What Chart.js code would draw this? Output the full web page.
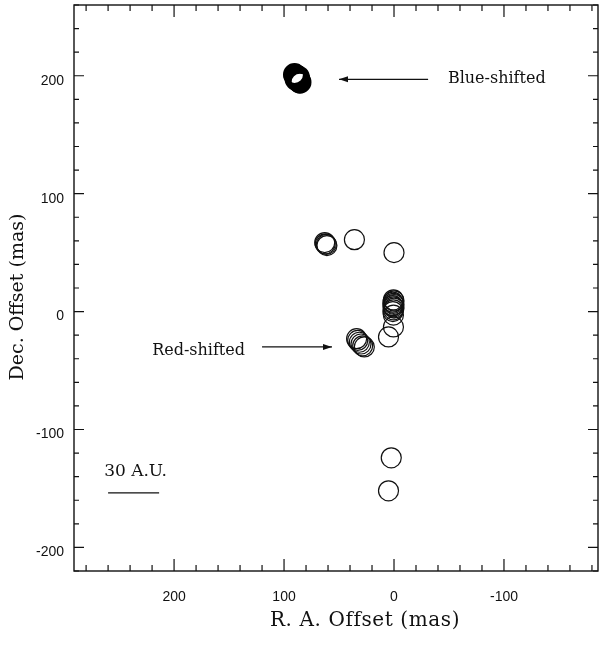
<!DOCTYPE html>
<html>
<head>
<meta charset="utf-8">
<script src="https://cdn.jsdelivr.net/npm/chart.js@4"></script>
<style>
  body { margin: 0; background: #fff; }
  canvas { display: block; }
</style>
</head>
<body>
<canvas id="maserChart" width="599" height="649"></canvas>
<script>
  // blue-shifted spots (drawn heavy, they merge into one blob)
  const blueRA  = [90.5, 90, 89.5, 89, 88.5, 88, 87.5, 87, 86.5, 86, 85.5, 89, 87];
  const blueDec = [201, 200.5, 200, 199, 198.5, 198, 197, 196.5, 196, 195, 194.5, 197, 199];

  // red-shifted / other spots
  const redRA  = [63, 62.5, 61.5, 61, 36, 0, 0.5, 0, 1, 0.5, 0, 1, 0.5, 0, 0.5, 1, 0.5, 0.5, 5, 34, 33, 31.5, 30, 28.5, 27, 2.5, 5];
  const redDec = [58.5, 57.5, 57, 56, 61, 50, 10, 9, 8, 7, 6, 5, 4, 3, 1.5, 0, -3, -13, -21.5, -23, -24.5, -26, -27.5, -29, -30, -124, -152];

  const raTicks  = [200, 100, 0, -100];
  const decTicks = [200, 100, 0, -100, -200];

  const raRange  = [-185.5, 291];
  const decRange = [-220, 260];

  const toPts = (xs, ys) => xs.map((x, i) => ({ x: x, y: ys[i] }));

  const serif = '"DejaVu Serif", "Liberation Serif", serif';
  const sans = '"Liberation Sans", Arial, sans-serif';

  // frame, inward ticks on all sides, tick labels, titles and the labels/arrows
  const decorations = {
    id: 'decorations',
    afterDraw(chart) {
      const ctx = chart.ctx;
      const a = chart.chartArea;
      const xs = chart.scales.x, ys = chart.scales.y;
      const X = v => xs.getPixelForValue(v);
      const Y = v => ys.getPixelForValue(v);
      ctx.save();
      ctx.strokeStyle = '#111';
      ctx.fillStyle = '#111';
      ctx.lineWidth = 1.4;
      ctx.strokeRect(a.left, a.top, a.right - a.left, a.bottom - a.top);

      ctx.lineWidth = 1.2;
      ctx.beginPath();
      for (let v = -180; v <= 280; v += 20) {
        const px = X(v);
        const len = v % 100 === 0 ? 12 : 6;
        ctx.moveTo(px, a.bottom); ctx.lineTo(px, a.bottom - len);
        ctx.moveTo(px, a.top); ctx.lineTo(px, a.top + len);
      }
      for (let v = -220; v <= 260; v += 20) {
        const py = Y(v);
        const len = v % 100 === 0 ? 10 : 5;
        ctx.moveTo(a.left, py); ctx.lineTo(a.left + len, py);
        ctx.moveTo(a.right, py); ctx.lineTo(a.right - len, py);
      }
      ctx.stroke();

      // tick labels
      ctx.font = '14px ' + sans;
      ctx.textBaseline = 'middle';
      ctx.textAlign = 'center';
      xs.ticks.forEach(t => ctx.fillText(String(t.value), X(t.value), a.bottom + 26));
      ctx.textAlign = 'right';
      ys.ticks.forEach(t => ctx.fillText(String(t.value), a.left - 10, Y(t.value) + 5));

      // axis titles
      ctx.textAlign = 'center';
      ctx.font = '20px ' + serif;
      ctx.letterSpacing = '0.6px';
      ctx.fillText('R. A. Offset (mas)', 365, 621);
      ctx.letterSpacing = '0px';
      ctx.save();
      ctx.translate(18, 297);
      ctx.rotate(-Math.PI / 2);
      ctx.font = '19px ' + serif;
      ctx.fillText('Dec. Offset (mas)', 0, 0);
      ctx.restore();

      // annotations, placed in data units
      const arrow = (x1, y1, x2, y2) => {
        ctx.lineWidth = 1.2;
        ctx.beginPath();
        ctx.moveTo(x1, y1); ctx.lineTo(x2, y2);
        ctx.stroke();
        const dir = Math.sign(x2 - x1);
        ctx.beginPath();
        ctx.moveTo(x2, y2);
        ctx.lineTo(x2 - dir * 9, y2 - 3);
        ctx.lineTo(x2 - dir * 9, y2 + 3);
        ctx.closePath();
        ctx.fill();
      };
      ctx.font = '16px ' + serif;
      ctx.textAlign = 'left';
      ctx.fillText('Blue-shifted', X(-49), Y(197.6));
      arrow(X(-31), Y(197), X(50), Y(197));
      ctx.textAlign = 'right';
      ctx.fillText('Red-shifted', X(135.5), Y(-33.4));
      arrow(X(120), Y(-30), X(56.4), Y(-30));

      ctx.textAlign = 'left';
      ctx.font = '17px ' + serif;
      ctx.fillText('30 A.U.', X(263.6), Y(-136));
      ctx.lineWidth = 1.3;
      ctx.beginPath();
      ctx.moveTo(X(260), Y(-153.7));
      ctx.lineTo(X(213.6), Y(-153.7));
      ctx.stroke();
      ctx.restore();
    }
  };

  const ctx = document.getElementById('maserChart').getContext('2d');
  new Chart(ctx, {
    type: 'scatter',
    data: {
      datasets: [
        {
          label: 'Blue-shifted',
          data: toPts(blueRA, blueDec),
          pointRadius: 10,
          pointBorderWidth: 3,
          pointBorderColor: '#000',
          pointBackgroundColor: 'rgba(0,0,0,0)'
        },
        {
          label: 'Red-shifted',
          data: toPts(redRA, redDec),
          pointRadius: 10,
          pointBorderWidth: 1.2,
          pointBorderColor: '#111',
          pointBackgroundColor: 'rgba(0,0,0,0)'
        }
      ]
    },
    options: {
      responsive: false,
      animation: false,
      layout: { autoPadding: false, padding: { top: 5, right: 1, left: 0, bottom: 0 } },
      plugins: {
        legend: { display: false },
        tooltip: { enabled: false }
      },
      scales: {
        x: {
          type: 'linear',
          reverse: true,
          min: raRange[0],
          max: raRange[1],
          grid: { display: false, drawTicks: false },
          border: { display: false },
          afterBuildTicks: s => { s.ticks = raTicks.map(v => ({ value: v })); },
          afterFit: s => { s.height = 78; },
          ticks: { display: false }
        },
        y: {
          type: 'linear',
          min: decRange[0],
          max: decRange[1],
          grid: { display: false, drawTicks: false },
          border: { display: false },
          afterBuildTicks: s => { s.ticks = decTicks.map(v => ({ value: v })); },
          afterFit: s => { s.width = 74; },
          ticks: { display: false }
        }
      }
    },
    plugins: [decorations]
  });
</script>
</body>
</html>
